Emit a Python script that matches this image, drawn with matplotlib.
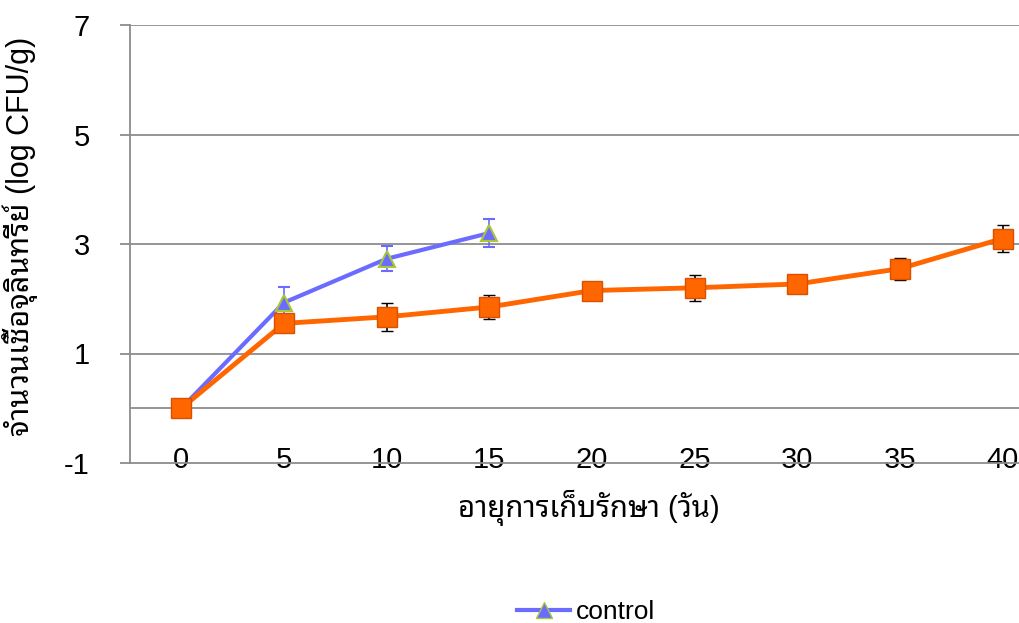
import matplotlib
matplotlib.use("Agg")
import matplotlib.pyplot as plt
from matplotlib.lines import Line2D

# storage time (days) and microbe counts (log CFU/g)
days = [0, 5, 10, 15, 20, 25, 30, 35, 40]
control = [0.0, 1.93, 2.73, 3.20]
control_err = [0.0, 0.29, 0.23, 0.26]
treated = [0.0, 1.55, 1.67, 1.85, 2.15, 2.20, 2.27, 2.55, 3.10]
treated_err = [0.05, 0.10, 0.25, 0.22, 0.10, 0.24, 0.10, 0.20, 0.24]

yticks = [-1, 1, 3, 5, 7]
gridlines = [0, 1, 3, 5, 7]

fonts = ["Liberation Sans", "Noto Sans Thai Looped", "DejaVu Sans"]
plt.rcParams["font.family"] = fonts

blue = "#6b6bff"
orange = "#ff6600"
grey = "#8c8c8c"

fig = plt.figure(figsize=(10.19, 6.23), dpi=100)
ax = fig.add_axes([130 / 1019, 1 - 463 / 623, 924 / 1019, 438 / 623])

x_all = list(range(len(days)))
x_ctrl = x_all[:len(control)]

for g in gridlines:
    ax.axhline(g, color=grey, lw=1.3, zorder=1)

ax.errorbar(x_ctrl, control, yerr=control_err, color=blue, lw=3,
            marker="^", ms=12, mfc=blue, mec="#a8c83a", mew=1.5,
            ecolor=blue, elinewidth=1.2, capsize=4, capthick=1.2, zorder=3)
ax.errorbar(x_all, treated, yerr=treated_err, color=orange, lw=3.5,
            marker="s", ms=15, mfc=orange, mec="#d85000", mew=1,
            ecolor="black", elinewidth=1.2, capsize=4, capthick=1.2, zorder=4)

ax.set_xlim(-0.5, len(days) - 0.5)
ax.set_ylim(-1, 7)
ax.set_xticks(x_all)
ax.set_xticklabels([str(d) for d in days])
ax.set_yticks(yticks)
ax.set_yticklabels([str(t) for t in yticks])

for side in ["top", "right"]:
    ax.spines[side].set_visible(False)
for side in ["left", "bottom"]:
    ax.spines[side].set_color(grey)
    ax.spines[side].set_linewidth(1.3)

ax.tick_params(axis="x", length=0, pad=-12, labelsize=21)
ax.tick_params(axis="y", length=7, width=1.3, color=grey, pad=22, labelsize=21)

fig.text(20 / 1019, 1 - 236 / 623, "จำนวนเชื้อจุลินทรีย์ (log CFU/g)",
         rotation=90, ha="center", va="center", fontsize=22)
fig.text(589 / 1019, 1 - 508 / 623, "อายุการเก็บรักษา (วัน)",
         ha="center", va="center", fontsize=21)

handle = Line2D([], [], color=blue, lw=3, marker="^", ms=12, mfc=blue, mec="#a8c83a")
fig.legend(handles=[handle], labels=["control"], loc="center",
           bbox_to_anchor=(586 / 1019, 1 - 612 / 623), frameon=False,
           fontsize=19, handlelength=2.0, handletextpad=0.2)

fig.savefig("out.png", dpi=100)
